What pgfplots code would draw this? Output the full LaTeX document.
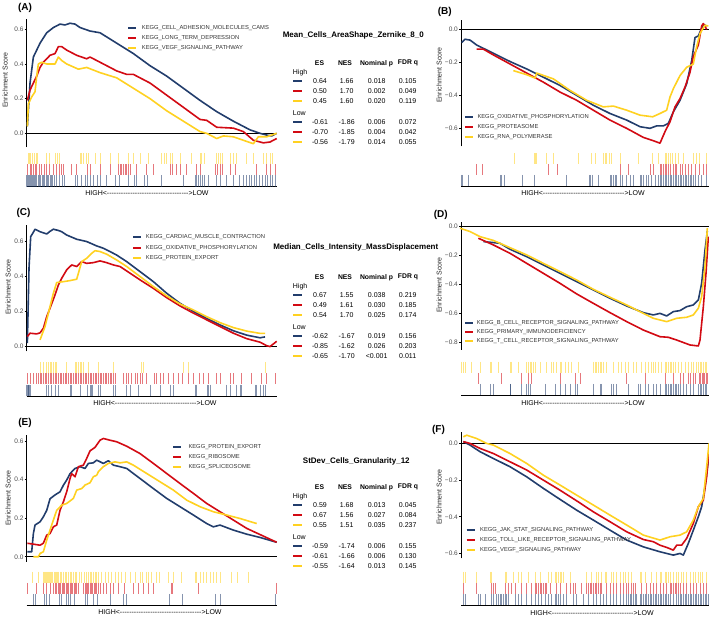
\documentclass[border=0pt]{standalone}
\usepackage{fontspec}
\setmainfont{Liberation Sans}
\usepackage{pgfplots}
\pgfplotsset{compat=1.18}
\definecolor{cb}{HTML}{223D6C}
\definecolor{cr}{HTML}{D20A13}
\definecolor{cy}{HTML}{FFD121}
\newcommand{\fs}[1]{\fontsize{#1}{#1}\selectfont}
\pgfplotsset{
  es/.style={scale only axis, axis x line=none, axis y line=left,
    axis line style={-, line width=0.8pt, black}, xtick=\empty,
    tick align=outside, major tick length=2pt,
    ytick style={line width=0.6pt, black},
    yticklabel style={font=\fs{6.5}, text=black!70, inner sep=1pt},
    clip=false},
  curve/.style={line width=1.6pt, line join=round, #1},
  rug/.style={scale only axis, axis x line=bottom, axis y line=none,
    axis line style={-, line width=0.8pt, black}, xtick=\empty,
    ymin=0, ymax=3, clip=false},
  tk/.style={only marks, mark=|, mark size=5.6pt,
    mark options={line width=0.8pt, opacity=0.55, #1}, #1},
}
% legend entry: key x, text x, y, colour, text
\newcommand{\lgd}[5]{%
  \draw[#4, line width=2pt] (#1pt,-#3pt) -- ++(8pt,0);
  \node[anchor=west, inner sep=0, font=\fs{5.8}, text=black!80] at (#2pt,-#3pt) {#5};}
% table row: y, colour, ES, NES, p, q
\newcommand{\trow}[6]{%
  \draw[#2, line width=2pt] (293.3pt,-#1pt) -- (301.7pt,-#1pt);
  \node[inner sep=0, font=\fs{7}] at (320pt,-#1pt) {#3};
  \node[inner sep=0, font=\fs{7}] at (346.7pt,-#1pt) {#4};
  \node[inner sep=0, font=\fs{7}] at (376.7pt,-#1pt) {#5};
  \node[inner sep=0, font=\fs{7}] at (407.7pt,-#1pt) {#6};}
\newcommand{\thead}[1]{%
  \node[inner sep=0, font=\bfseries\fs{6.8}] at (319.5pt,-#1pt) {ES};
  \node[inner sep=0, font=\bfseries\fs{6.8}] at (345pt,-#1pt) {NES};
  \node[inner sep=0, font=\bfseries\fs{6.8}] at (376.5pt,-#1pt) {Nominal p};
  \node[inner sep=0, font=\bfseries\fs{6.8}] at (408pt,-#1pt) {FDR q};}
\newcommand{\tlab}[2]{\node[anchor=west, inner sep=0, font=\fs{7}] at (292.7pt,-#1pt) {#2};}
\newcommand{\dd}{-{}-{}-{}-{}-{}}
\newcommand{\hl}{HIGH<\dd\dd\dd\dd\dd\dd\dd{}>LOW}
\newcommand{\esl}[2]{\node[rotate=90, inner sep=0, font=\fs{7}, text=black!85] at (#1pt,-#2pt) {Enrichment Score};}
\newcommand{\plab}[3]{\node[inner sep=0, font=\bfseries\fs{10}] at (#1pt,-#2pt) {(#3)};}

\begin{document}
\begin{tikzpicture}
\useasboundingbox (0,0) rectangle (709pt,-618pt);

%%%%%%%%%%%%%%%% (A)
\begin{axis}[es, at={(26.7pt,-18.9pt)}, anchor=north west, width=250pt, height=128.3pt,
  xmin=80, xmax=830, ymin=-0.08, ymax=0.66, ytick={0,0.2,0.4,0.6}, yticklabels={0.0,0.2,0.4,0.6}]
\addplot[black, line width=0.8pt] coordinates {(80,0)(830,0)};
\addplot[curve=cb] coordinates {(82,0.04)(90,0.29)(100,0.44)(120,0.52)(140,0.58)(160,0.61)(180,0.63)(195,0.625)(210,0.635)(225,0.63)(240,0.61)(270,0.59)(300,0.58)(350,0.52)(400,0.46)(450,0.39)(500,0.33)(550,0.26)(600,0.19)(650,0.125)(700,0.07)(750,0.02)(780,0.0)(800,-0.01)(815,-0.015)(830,0.0)};
\addplot[curve=cr] coordinates {(82,0.19)(90,0.25)(100,0.29)(110,0.33)(120,0.38)(130,0.41)(150,0.45)(165,0.46)(175,0.50)(185,0.50)(200,0.48)(230,0.45)(260,0.43)(270,0.44)(300,0.41)(350,0.36)(380,0.34)(400,0.34)(450,0.29)(500,0.22)(550,0.15)(600,0.08)(620,0.075)(650,0.035)(700,0.03)(730,0.01)(760,-0.04)(790,-0.055)(810,-0.05)(830,-0.03)};
\addplot[curve=cy] coordinates {(82,0.04)(85,0.17)(95,0.21)(105,0.24)(110,0.33)(115,0.40)(125,0.41)(140,0.40)(165,0.40)(175,0.44)(185,0.42)(200,0.40)(235,0.37)(260,0.38)(300,0.35)(350,0.32)(400,0.26)(450,0.20)(500,0.13)(550,0.07)(600,0.01)(620,0.0)(650,-0.03)(670,-0.015)(700,-0.02)(730,-0.04)(760,-0.06)(775,-0.02)(800,-0.02)(830,0.0)};
\end{axis}
\begin{axis}[rug, at={(26.7pt,-152.7pt)}, anchor=north west, width=250pt, height=34pt, xmin=80, xmax=830]
\addplot[tk=cy] coordinates {(85,2.5)(88,2.5)(92,2.5)(98,2.5)(103,2.5)(108,2.5)(113,2.5)(140,2.5)(148,2.5)(165,2.5)(172,2.5)(178,2.5)(240,2.5)(245,2.5)(250,2.5)(258,2.5)(265,2.5)(285,2.5)(300,2.5)(330,2.5)(355,2.5)(385,2.5)(400,2.5)(420,2.5)(445,2.5)(485,2.5)(492,2.5)(500,2.5)(510,2.5)(518,2.5)(540,2.5)(575,2.5)(600,2.5)(605,2.5)(612,2.5)(650,2.5)(655,2.5)(660,2.5)(668,2.5)(690,2.5)(700,2.5)(710,2.5)(740,2.5)(760,2.5)(790,2.5)(800,2.5)(810,2.5)(818,2.5)};
\addplot[tk=cr] coordinates {(83,1.5)(90,1.5)(95,1.5)(100,1.5)(105,1.5)(110,1.5)(118,1.5)(125,1.5)(133,1.5)(140,1.5)(148,1.5)(160,1.5)(168,1.5)(178,1.5)(185,1.5)(190,1.5)(215,1.5)(230,1.5)(262,1.5)(270,1.5)(300,1.5)(330,1.5)(355,1.5)(360,1.5)(365,1.5)(370,1.5)(375,1.5)(380,1.5)(385,1.5)(390,1.5)(410,1.5)(440,1.5)(460,1.5)(510,1.5)(518,1.5)(528,1.5)(540,1.5)(560,1.5)(590,1.5)(600,1.5)(645,1.5)(652,1.5)(660,1.5)(668,1.5)(690,1.5)(705,1.5)(768,1.5)(800,1.5)(810,1.5)(825,1.5)};
\addplot[tk=cb] coordinates {(80,0.5)(83,0.5)(86,0.5)(89,0.5)(92,0.5)(95,0.5)(98,0.5)(101,0.5)(104,0.5)(107,0.5)(110,0.5)(114,0.5)(118,0.5)(122,0.5)(126,0.5)(130,0.5)(134,0.5)(138,0.5)(142,0.5)(146,0.5)(150,0.5)(154,0.5)(158,0.5)(162,0.5)(170,0.5)(178,0.5)(186,0.5)(192,0.5)(225,0.5)(232,0.5)(245,0.5)(255,0.5)(262,0.5)(270,0.5)(280,0.5)(292,0.5)(300,0.5)(318,0.5)(345,0.5)(358,0.5)(385,0.5)(402,0.5)(410,0.5)(432,0.5)(442,0.5)(485,0.5)(550,0.5)(585,0.5)(590,0.5)(595,0.5)(600,0.5)(606,0.5)(612,0.5)(625,0.5)(650,0.5)(660,0.5)(680,0.5)(700,0.5)(718,0.5)(730,0.5)(738,0.5)(748,0.5)(755,0.5)(762,0.5)(770,0.5)(778,0.5)(786,0.5)(795,0.5)(802,0.5)(810,0.5)(818,0.5)(825,0.5)};
\end{axis}

%%%%%%%%%%%%%%%% (B)
\begin{axis}[es, at={(461pt,-20.1pt)}, anchor=north west, width=248pt, height=126.4pt,
  xmin=3, xmax=747, ymin=-0.71, ymax=0.056, ytick={-0.6,-0.4,-0.2,0}, yticklabels={−0.6,−0.4,−0.2,0.0}]
\addplot[black, line width=0.8pt] coordinates {(3,0)(747,0)};
\addplot[curve=cb] coordinates {(5,-0.08)(15,-0.06)(30,-0.065)(50,-0.095)(100,-0.145)(150,-0.195)(200,-0.24)(250,-0.29)(300,-0.34)(350,-0.4)(400,-0.46)(450,-0.51)(500,-0.55)(540,-0.59)(570,-0.6)(590,-0.585)(610,-0.585)(625,-0.57)(640,-0.5)(660,-0.43)(680,-0.33)(695,-0.19)(705,-0.05)(715,-0.04)(730,0.03)(740,0.02)};
\addplot[curve=cr] coordinates {(50,-0.12)(70,-0.12)(100,-0.155)(150,-0.21)(200,-0.265)(250,-0.32)(300,-0.38)(350,-0.43)(400,-0.49)(450,-0.55)(500,-0.6)(550,-0.655)(580,-0.675)(600,-0.69)(615,-0.62)(630,-0.56)(645,-0.47)(660,-0.42)(675,-0.35)(690,-0.26)(700,-0.165)(715,-0.095)(725,0.02)(730,0.035)(740,0.0)};
\addplot[curve=cy] coordinates {(160,-0.25)(200,-0.275)(225,-0.295)(230,-0.265)(280,-0.3)(330,-0.37)(380,-0.43)(430,-0.47)(460,-0.465)(500,-0.49)(540,-0.52)(578,-0.53)(600,-0.51)(620,-0.49)(630,-0.41)(640,-0.36)(660,-0.28)(680,-0.23)(700,-0.21)(710,-0.105)(720,-0.025)(735,0.025)(745,0.02)};
\end{axis}
\begin{axis}[rug, at={(461pt,-153pt)}, anchor=north west, width=248pt, height=33pt, xmin=3, xmax=747]
\addplot[tk=cy] coordinates {(163,2.5)(222,2.5)(225,2.5)(228,2.5)(258,2.5)(280,2.5)(355,2.5)(395,2.5)(405,2.5)(430,2.5)(435,2.5)(440,2.5)(448,2.5)(455,2.5)(480,2.5)(535,2.5)(578,2.5)(595,2.5)(615,2.5)(620,2.5)(625,2.5)(630,2.5)(638,2.5)(645,2.5)(655,2.5)(670,2.5)(700,2.5)(710,2.5)(718,2.5)(740,2.5)};
\addplot[tk=cr] coordinates {(50,1.5)(68,1.5)(265,1.5)(293,1.5)(480,1.5)(505,1.5)(570,1.5)(580,1.5)(600,1.5)(605,1.5)(610,1.5)(615,1.5)(620,1.5)(625,1.5)(630,1.5)(640,1.5)(645,1.5)(650,1.5)(660,1.5)(668,1.5)(675,1.5)(685,1.5)(695,1.5)(705,1.5)(718,1.5)(730,1.5)(740,1.5)};
\addplot[tk=cb] coordinates {(5,0.5)(8,0.5)(25,0.5)(120,0.5)(125,0.5)(132,0.5)(188,0.5)(222,0.5)(318,0.5)(388,0.5)(392,0.5)(398,0.5)(415,0.5)(450,0.5)(455,0.5)(460,0.5)(465,0.5)(470,0.5)(480,0.5)(488,0.5)(500,0.5)(510,0.5)(520,0.5)(540,0.5)(545,0.5)(550,0.5)(560,0.5)(565,0.5)(575,0.5)(585,0.5)(595,0.5)(600,0.5)(605,0.5)(610,0.5)(615,0.5)(620,0.5)(625,0.5)(630,0.5)(635,0.5)(640,0.5)(645,0.5)(650,0.5)(655,0.5)(660,0.5)(665,0.5)(670,0.5)(675,0.5)(680,0.5)(685,0.5)(690,0.5)(695,0.5)(700,0.5)(705,0.5)(715,0.5)(725,0.5)(740,0.5)};
\end{axis}

%%%%%%%%%%%%%%%% (C)
\begin{axis}[es, at={(26.7pt,-225pt)}, anchor=north west, width=250pt, height=126.5pt,
  xmin=80, xmax=830, ymin=-0.028, ymax=0.691, ytick={0,0.2,0.4,0.6}, yticklabels={0.0,0.2,0.4,0.6}]
\addplot[black, line width=0.8pt] coordinates {(80,0)(830,0)};
\addplot[curve=cb] coordinates {(82,0.02)(87,0.45)(92,0.625)(100,0.65)(105,0.667)(120,0.653)(140,0.64)(150,0.655)(160,0.667)(175,0.66)(185,0.653)(200,0.634)(230,0.61)(260,0.597)(290,0.572)(310,0.559)(330,0.54)(350,0.52)(380,0.483)(420,0.426)(460,0.369)(500,0.303)(540,0.246)(580,0.2)(620,0.16)(660,0.123)(700,0.09)(740,0.065)(780,0.05)(795,0.055)};
\addplot[curve=cr] coordinates {(82,0.057)(90,0.076)(110,0.072)(120,0.078)(130,0.104)(140,0.17)(150,0.218)(165,0.294)(175,0.35)(185,0.388)(200,0.436)(215,0.464)(230,0.455)(245,0.483)(260,0.473)(280,0.477)(300,0.487)(320,0.477)(340,0.464)(360,0.455)(390,0.417)(420,0.379)(460,0.331)(500,0.278)(540,0.231)(580,0.19)(620,0.152)(660,0.114)(700,0.076)(740,0.045)(780,0.025)(800,0.005)(810,0.0)(830,0.03)};
\addplot[curve=cy] coordinates {(120,0.038)(135,0.114)(150,0.227)(160,0.303)(170,0.364)(190,0.369)(210,0.375)(230,0.383)(245,0.483)(260,0.502)(275,0.53)(285,0.545)(300,0.54)(320,0.525)(350,0.492)(380,0.455)(420,0.398)(460,0.341)(500,0.288)(540,0.242)(580,0.208)(620,0.17)(660,0.136)(700,0.108)(740,0.088)(780,0.075)(795,0.075)};
\end{axis}
\begin{axis}[rug, at={(26.7pt,-361.7pt)}, anchor=north west, width=250pt, height=34.3pt, xmin=80, xmax=830]
\addplot[tk=cy] coordinates {(120,2.5)(130,2.5)(140,2.5)(145,2.5)(150,2.5)(155,2.5)(160,2.5)(165,2.5)(170,2.5)(200,2.5)(225,2.5)(230,2.5)(235,2.5)(240,2.5)(245,2.5)(250,2.5)(265,2.5)(295,2.5)(340,2.5)(425,2.5)(430,2.5)(550,2.5)(565,2.5)(795,2.5)};
\addplot[tk=cr] coordinates {(82,1.5)(92,1.5)(100,1.5)(110,1.5)(115,1.5)(120,1.5)(125,1.5)(130,1.5)(135,1.5)(140,1.5)(145,1.5)(150,1.5)(155,1.5)(160,1.5)(165,1.5)(170,1.5)(175,1.5)(180,1.5)(185,1.5)(190,1.5)(195,1.5)(200,1.5)(205,1.5)(210,1.5)(215,1.5)(220,1.5)(225,1.5)(230,1.5)(235,1.5)(240,1.5)(245,1.5)(250,1.5)(255,1.5)(260,1.5)(265,1.5)(270,1.5)(275,1.5)(280,1.5)(285,1.5)(290,1.5)(295,1.5)(300,1.5)(305,1.5)(310,1.5)(315,1.5)(320,1.5)(325,1.5)(330,1.5)(335,1.5)(340,1.5)(345,1.5)(370,1.5)(378,1.5)(385,1.5)(395,1.5)(405,1.5)(412,1.5)(420,1.5)(428,1.5)(440,1.5)(462,1.5)(470,1.5)(480,1.5)(490,1.5)(505,1.5)(520,1.5)(535,1.5)(548,1.5)(565,1.5)(580,1.5)(598,1.5)(610,1.5)(625,1.5)(650,1.5)(660,1.5)(690,1.5)(700,1.5)(725,1.5)(755,1.5)(785,1.5)(800,1.5)(825,1.5)};
\addplot[tk=cb] coordinates {(80,0.5)(82,0.5)(84,0.5)(86,0.5)(88,0.5)(90,0.5)(138,0.5)(145,0.5)(155,0.5)(165,0.5)(175,0.5)(210,0.5)(215,0.5)(240,0.5)(262,0.5)(270,0.5)(275,0.5)(278,0.5)(295,0.5)(300,0.5)(340,0.5)(345,0.5)(380,0.5)(390,0.5)(415,0.5)(450,0.5)(480,0.5)(510,0.5)(520,0.5)(585,0.5)(590,0.5)(622,0.5)(625,0.5)(630,0.5)(680,0.5)(690,0.5)(710,0.5)(720,0.5)(725,0.5)(765,0.5)(770,0.5)(780,0.5)(790,0.5)(795,0.5)};
\end{axis}

%%%%%%%%%%%%%%%% (D)
\begin{axis}[es, at={(461pt,-221.7pt)}, anchor=north west, width=248pt, height=128.2pt,
  xmin=3, xmax=747, ymin=-0.85, ymax=0.034, ytick={-0.8,-0.6,-0.4,-0.2,0}, yticklabels={−0.8,−0.6,−0.4,−0.2,0.0}]
\addplot[black, line width=0.8pt] coordinates {(3,0)(747,0)};
\addplot[curve=cb] coordinates {(70,-0.103)(100,-0.11)(120,-0.115)(150,-0.156)(200,-0.207)(250,-0.264)(300,-0.322)(350,-0.379)(400,-0.437)(450,-0.494)(500,-0.547)(550,-0.593)(580,-0.609)(600,-0.598)(620,-0.616)(640,-0.586)(660,-0.579)(680,-0.552)(700,-0.54)(715,-0.506)(725,-0.39)(735,-0.161)(742,-0.03)};
\addplot[curve=cr] coordinates {(55,-0.08)(100,-0.126)(150,-0.184)(200,-0.253)(250,-0.322)(300,-0.391)(350,-0.464)(400,-0.529)(450,-0.593)(500,-0.655)(550,-0.713)(600,-0.759)(625,-0.763)(650,-0.782)(690,-0.816)(715,-0.823)(720,-0.782)(730,-0.552)(738,-0.322)(745,-0.069)};
\addplot[curve=cy] coordinates {(0,-0.011)(30,-0.034)(60,-0.069)(100,-0.095)(150,-0.145)(200,-0.195)(250,-0.253)(300,-0.31)(350,-0.368)(400,-0.432)(450,-0.487)(500,-0.54)(550,-0.598)(580,-0.632)(620,-0.655)(650,-0.632)(680,-0.625)(700,-0.609)(715,-0.563)(725,-0.483)(735,-0.276)(742,-0.01)};
\end{axis}
\begin{axis}[rug, at={(461pt,-361.7pt)}, anchor=north west, width=248pt, height=33.3pt, xmin=3, xmax=747]
\addplot[tk=cy] coordinates {(5,2.5)(10,2.5)(15,2.5)(35,2.5)(60,2.5)(90,2.5)(95,2.5)(115,2.5)(150,2.5)(155,2.5)(175,2.5)(200,2.5)(205,2.5)(210,2.5)(215,2.5)(220,2.5)(225,2.5)(240,2.5)(260,2.5)(275,2.5)(280,2.5)(290,2.5)(300,2.5)(305,2.5)(315,2.5)(325,2.5)(335,2.5)(355,2.5)(400,2.5)(405,2.5)(410,2.5)(415,2.5)(420,2.5)(425,2.5)(430,2.5)(440,2.5)(460,2.5)(475,2.5)(485,2.5)(495,2.5)(505,2.5)(520,2.5)(530,2.5)(545,2.5)(555,2.5)(565,2.5)(575,2.5)(580,2.5)(585,2.5)(595,2.5)(605,2.5)(615,2.5)(620,2.5)(625,2.5)(630,2.5)(635,2.5)(640,2.5)(645,2.5)(655,2.5)(665,2.5)(675,2.5)(685,2.5)(695,2.5)(700,2.5)(710,2.5)(715,2.5)(720,2.5)(725,2.5)(730,2.5)(735,2.5)(740,2.5)};
\addplot[tk=cr] coordinates {(55,1.5)(125,1.5)(185,1.5)(205,1.5)(213,1.5)(300,1.5)(345,1.5)(360,1.5)(500,1.5)(555,1.5)(615,1.5)(640,1.5)(660,1.5)(670,1.5)(685,1.5)(690,1.5)(700,1.5)(705,1.5)(718,1.5)(722,1.5)(726,1.5)(730,1.5)(734,1.5)(738,1.5)(742,1.5)};
\addplot[tk=cb] coordinates {(62,0.5)(90,0.5)(100,0.5)(150,0.5)(152,0.5)(185,0.5)(200,0.5)(205,0.5)(210,0.5)(255,0.5)(285,0.5)(300,0.5)(315,0.5)(330,0.5)(345,0.5)(352,0.5)(400,0.5)(420,0.5)(425,0.5)(455,0.5)(460,0.5)(470,0.5)(505,0.5)(535,0.5)(540,0.5)(555,0.5)(565,0.5)(580,0.5)(590,0.5)(600,0.5)(615,0.5)(620,0.5)(625,0.5)(630,0.5)(635,0.5)(640,0.5)(645,0.5)(650,0.5)(655,0.5)(660,0.5)(670,0.5)(680,0.5)(690,0.5)(700,0.5)(715,0.5)(720,0.5)(725,0.5)(730,0.5)(735,0.5)(740,0.5)};
\end{axis}

%%%%%%%%%%%%%%%% (E)
\begin{axis}[es, at={(26.7pt,-435pt)}, anchor=north west, width=250pt, height=126.8pt,
  xmin=80, xmax=830, ymin=-0.026, ymax=0.63, ytick={0,0.2,0.4,0.6}, yticklabels={0.0,0.2,0.4,0.6}]
\addplot[black, line width=0.8pt] coordinates {(80,0)(830,0)};
\addplot[curve=cb] coordinates {(82,0.026)(95,0.026)(100,0.12)(105,0.164)(120,0.181)(130,0.207)(140,0.24)(150,0.3)(165,0.32)(180,0.336)(190,0.37)(200,0.397)(210,0.43)(225,0.457)(240,0.466)(255,0.457)(265,0.483)(280,0.486)(290,0.5)(310,0.483)(325,0.497)(340,0.474)(360,0.466)(380,0.457)(420,0.405)(460,0.353)(500,0.302)(540,0.259)(580,0.216)(620,0.172)(640,0.155)(660,0.164)(700,0.138)(740,0.117)(780,0.1)(830,0.075)};
\addplot[curve=cr] coordinates {(82,0.07)(120,0.06)(130,0.07)(140,0.112)(150,0.12)(160,0.155)(170,0.164)(180,0.241)(190,0.284)(200,0.336)(210,0.405)(215,0.43)(225,0.414)(235,0.466)(250,0.474)(260,0.509)(270,0.548)(285,0.566)(300,0.603)(310,0.612)(330,0.603)(350,0.595)(380,0.572)(420,0.534)(460,0.483)(500,0.431)(540,0.379)(580,0.328)(620,0.276)(660,0.233)(700,0.19)(740,0.147)(780,0.115)(830,0.075)};
\addplot[curve=cy] coordinates {(100,0.0)(115,0.0)(120,0.017)(130,0.026)(140,0.086)(155,0.164)(170,0.241)(185,0.267)(200,0.276)(220,0.302)(230,0.345)(245,0.353)(255,0.371)(270,0.383)(280,0.414)(290,0.422)(295,0.44)(310,0.466)(325,0.483)(345,0.491)(360,0.486)(380,0.491)(400,0.474)(440,0.431)(480,0.388)(520,0.345)(560,0.293)(600,0.259)(640,0.233)(680,0.216)(720,0.198)(770,0.172)};
\end{axis}
\begin{axis}[rug, at={(26.7pt,-571.7pt)}, anchor=north west, width=250pt, height=33.3pt, xmin=80, xmax=830]
\addplot[tk=cy] coordinates {(98,2.5)(115,2.5)(130,2.5)(133,2.5)(136,2.5)(139,2.5)(142,2.5)(145,2.5)(148,2.5)(151,2.5)(155,2.5)(158,2.5)(162,2.5)(165,2.5)(168,2.5)(172,2.5)(176,2.5)(180,2.5)(185,2.5)(190,2.5)(195,2.5)(200,2.5)(205,2.5)(210,2.5)(215,2.5)(220,2.5)(225,2.5)(230,2.5)(238,2.5)(245,2.5)(252,2.5)(258,2.5)(265,2.5)(270,2.5)(275,2.5)(280,2.5)(285,2.5)(290,2.5)(295,2.5)(305,2.5)(315,2.5)(325,2.5)(335,2.5)(345,2.5)(355,2.5)(365,2.5)(375,2.5)(390,2.5)(405,2.5)(420,2.5)(428,2.5)(440,2.5)(445,2.5)(455,2.5)(470,2.5)(478,2.5)(505,2.5)(520,2.5)(545,2.5)(585,2.5)(590,2.5)(600,2.5)(610,2.5)(620,2.5)(630,2.5)(640,2.5)(650,2.5)(660,2.5)(695,2.5)(712,2.5)(745,2.5)};
\addplot[tk=cr] coordinates {(82,1.5)(108,1.5)(130,1.5)(140,1.5)(150,1.5)(160,1.5)(165,1.5)(170,1.5)(175,1.5)(178,1.5)(182,1.5)(186,1.5)(190,1.5)(194,1.5)(198,1.5)(202,1.5)(206,1.5)(210,1.5)(214,1.5)(218,1.5)(222,1.5)(226,1.5)(230,1.5)(235,1.5)(250,1.5)(255,1.5)(258,1.5)(262,1.5)(266,1.5)(270,1.5)(274,1.5)(278,1.5)(282,1.5)(286,1.5)(290,1.5)(295,1.5)(300,1.5)(310,1.5)(320,1.5)(330,1.5)(340,1.5)(355,1.5)(372,1.5)(400,1.5)(415,1.5)(430,1.5)(445,1.5)(460,1.5)(515,1.5)(518,1.5)(595,1.5)(828,1.5)};
\addplot[tk=cb] coordinates {(100,0.5)(105,0.5)(133,0.5)(140,0.5)(148,0.5)(178,0.5)(185,0.5)(200,0.5)(205,0.5)(212,0.5)(222,0.5)(255,0.5)(262,0.5)(280,0.5)(292,0.5)(332,0.5)(370,0.5)(380,0.5)(508,0.5)(548,0.5)(645,0.5)(662,0.5)(825,0.5)};
\end{axis}

%%%%%%%%%%%%%%%% (F)
\begin{axis}[es, at={(461pt,-431.7pt)}, anchor=north west, width=248pt, height=126.7pt,
  xmin=3, xmax=747, ymin=-0.627, ymax=0.064, ytick={-0.6,-0.4,-0.2,0}, yticklabels={−0.6,−0.4,−0.2,0.0}]
\addplot[black, line width=0.8pt] coordinates {(3,0)(747,0)};
\addplot[curve=cb] coordinates {(10,0.01)(30,-0.009)(60,-0.045)(100,-0.082)(150,-0.127)(200,-0.182)(250,-0.245)(300,-0.305)(350,-0.364)(400,-0.418)(450,-0.473)(500,-0.527)(550,-0.564)(600,-0.591)(640,-0.609)(660,-0.6)(670,-0.609)(685,-0.545)(700,-0.473)(715,-0.4)(725,-0.345)(735,-0.236)(745,-0.091)(748,0.0)};
\addplot[curve=cr] coordinates {(10,0.01)(30,0.0)(60,-0.027)(100,-0.055)(150,-0.1)(200,-0.145)(250,-0.2)(300,-0.255)(350,-0.313)(400,-0.373)(450,-0.427)(500,-0.482)(550,-0.524)(580,-0.536)(600,-0.555)(620,-0.567)(640,-0.582)(650,-0.555)(665,-0.555)(680,-0.518)(700,-0.436)(715,-0.345)(730,-0.309)(740,-0.182)(748,-0.018)};
\addplot[curve=cy] coordinates {(10,0.036)(20,0.045)(50,0.027)(80,0.0)(100,-0.009)(150,-0.055)(200,-0.109)(250,-0.173)(300,-0.227)(350,-0.282)(400,-0.336)(450,-0.391)(500,-0.445)(550,-0.5)(600,-0.527)(630,-0.509)(660,-0.5)(680,-0.482)(700,-0.418)(715,-0.345)(730,-0.3)(740,-0.127)(747,0.0)};
\end{axis}
\begin{axis}[rug, at={(461pt,-571.7pt)}, anchor=north west, width=248pt, height=33.3pt, xmin=3, xmax=747]
\addplot[tk=cy] coordinates {(10,2.5)(15,2.5)(50,2.5)(90,2.5)(95,2.5)(135,2.5)(140,2.5)(160,2.5)(175,2.5)(185,2.5)(205,2.5)(225,2.5)(240,2.5)(265,2.5)(275,2.5)(285,2.5)(290,2.5)(295,2.5)(300,2.5)(305,2.5)(310,2.5)(330,2.5)(380,2.5)(395,2.5)(410,2.5)(415,2.5)(425,2.5)(435,2.5)(440,2.5)(455,2.5)(460,2.5)(470,2.5)(480,2.5)(490,2.5)(495,2.5)(505,2.5)(515,2.5)(540,2.5)(545,2.5)(555,2.5)(575,2.5)(590,2.5)(600,2.5)(605,2.5)(615,2.5)(620,2.5)(625,2.5)(630,2.5)(640,2.5)(648,2.5)(655,2.5)(665,2.5)(670,2.5)(680,2.5)(690,2.5)(700,2.5)(705,2.5)(715,2.5)(720,2.5)(728,2.5)(740,2.5)};
\addplot[tk=cr] coordinates {(10,1.5)(50,1.5)(95,1.5)(100,1.5)(105,1.5)(135,1.5)(145,1.5)(155,1.5)(165,1.5)(185,1.5)(200,1.5)(215,1.5)(225,1.5)(230,1.5)(235,1.5)(240,1.5)(245,1.5)(250,1.5)(255,1.5)(260,1.5)(270,1.5)(290,1.5)(300,1.5)(320,1.5)(330,1.5)(340,1.5)(345,1.5)(365,1.5)(380,1.5)(385,1.5)(390,1.5)(395,1.5)(400,1.5)(405,1.5)(410,1.5)(415,1.5)(420,1.5)(425,1.5)(440,1.5)(450,1.5)(460,1.5)(470,1.5)(480,1.5)(490,1.5)(500,1.5)(505,1.5)(515,1.5)(520,1.5)(525,1.5)(545,1.5)(560,1.5)(570,1.5)(580,1.5)(590,1.5)(600,1.5)(610,1.5)(620,1.5)(630,1.5)(635,1.5)(640,1.5)(645,1.5)(650,1.5)(655,1.5)(660,1.5)(670,1.5)(680,1.5)(690,1.5)(700,1.5)(710,1.5)(720,1.5)(730,1.5)(740,1.5)};
\addplot[tk=cb] coordinates {(10,0.5)(15,0.5)(55,0.5)(60,0.5)(75,0.5)(95,0.5)(100,0.5)(110,0.5)(115,0.5)(120,0.5)(125,0.5)(130,0.5)(135,0.5)(140,0.5)(145,0.5)(165,0.5)(175,0.5)(185,0.5)(200,0.5)(215,0.5)(225,0.5)(235,0.5)(245,0.5)(255,0.5)(265,0.5)(275,0.5)(285,0.5)(290,0.5)(295,0.5)(300,0.5)(310,0.5)(320,0.5)(340,0.5)(350,0.5)(370,0.5)(385,0.5)(400,0.5)(410,0.5)(420,0.5)(430,0.5)(440,0.5)(450,0.5)(460,0.5)(470,0.5)(480,0.5)(490,0.5)(500,0.5)(505,0.5)(510,0.5)(515,0.5)(520,0.5)(525,0.5)(530,0.5)(540,0.5)(545,0.5)(550,0.5)(555,0.5)(560,0.5)(565,0.5)(570,0.5)(575,0.5)(580,0.5)(585,0.5)(590,0.5)(595,0.5)(600,0.5)(605,0.5)(610,0.5)(615,0.5)(620,0.5)(625,0.5)(630,0.5)(640,0.5)(650,0.5)(655,0.5)(660,0.5)(665,0.5)(670,0.5)(675,0.5)(680,0.5)(685,0.5)(690,0.5)(695,0.5)(700,0.5)(705,0.5)(710,0.5)(715,0.5)(720,0.5)(725,0.5)(730,0.5)(735,0.5)(740,0.5)(745,0.5)};
\end{axis}

%%%%%%%%%%%%%%%% text
\plab{25}{8}{A} \plab{444.7}{11.7}{B} \plab{23.5}{213.3}{C}
\plab{440.8}{215}{D} \plab{25}{423.3}{E} \plab{438.5}{430}{F}
\esl{5}{80} \esl{8}{287} \esl{8}{498} \esl{439}{75} \esl{439}{285} \esl{439}{497}
\node[font=\fs{7}, inner sep=0] at (147pt,-193.3pt) {\hl};
\node[font=\fs{7}, inner sep=0] at (583pt,-193pt) {\hl};
\node[font=\fs{7}, inner sep=0] at (155pt,-402.7pt) {\hl};
\node[font=\fs{7}, inner sep=0] at (583pt,-402.7pt) {\hl};
\node[font=\fs{7}, inner sep=0] at (160pt,-612pt) {\hl};
\node[font=\fs{7}, inner sep=0] at (592pt,-612.7pt) {\hl};

\lgd{128.3}{141.7}{28.5}{cb}{KEGG\_CELL\_ADHESION\_MOLECULES\_CAMS}
\lgd{128.3}{141.7}{38}{cr}{KEGG\_LONG\_TERM\_DEPRESSION}
\lgd{128.3}{141.7}{48}{cy}{KEGG\_VEGF\_SIGNALING\_PATHWAY}
\lgd{465}{477.3}{117.3}{cb}{KEGG\_OXIDATIVE\_PHOSPHORYLATION}
\lgd{465}{477.3}{127.3}{cr}{KEGG\_PROTEASOME}
\lgd{465}{477.3}{136.7}{cy}{KEGG\_RNA\_POLYMERASE}
\lgd{133.3}{145.7}{237.3}{cb}{KEGG\_CARDIAC\_MUSCLE\_CONTRACTION}
\lgd{133.3}{145.7}{247.7}{cr}{KEGG\_OXIDATIVE\_PHOSPHORYLATION}
\lgd{133.3}{145.7}{257.7}{cy}{KEGG\_PROTEIN\_EXPORT}
\lgd{465}{476.7}{322.7}{cb}{KEGG\_B\_CELL\_RECEPTOR\_SIGNALING\_PATHWAY}
\lgd{465}{476.7}{331.7}{cr}{KEGG\_PRIMARY\_IMMUNODEFICIENCY}
\lgd{465}{476.7}{340.7}{cy}{KEGG\_T\_CELL\_RECEPTOR\_SIGNALING\_PATHWAY}
\lgd{173.3}{188.3}{447.3}{cb}{KEGG\_PROTEIN\_EXPORT}
\lgd{173.3}{188.3}{457.3}{cr}{KEGG\_RIBOSOME}
\lgd{173.3}{188.3}{467.3}{cy}{KEGG\_SPLICEOSOME}
\lgd{466.7}{480}{530}{cb}{KEGG\_JAK\_STAT\_SIGNALING\_PATHWAY}
\lgd{466.7}{480}{540}{cr}{KEGG\_TOLL\_LIKE\_RECEPTOR\_SIGNALING\_PATHWAY}
\lgd{466.7}{480}{550}{cy}{KEGG\_VEGF\_SIGNALING\_PATHWAY}

% table 1
\node[font=\bfseries\fs{8}, inner sep=0] at (353.3pt,-35pt) {Mean\_Cells\_AreaShape\_Zernike\_8\_0};
\thead{63.3} \tlab{72.7}{High}
\trow{81}{cb}{0.64}{1.66}{0.018}{0.105}
\trow{91}{cr}{0.50}{1.70}{0.002}{0.049}
\trow{101}{cy}{0.45}{1.60}{0.020}{0.119}
\tlab{113.3}{Low}
\trow{121.7}{cb}{-0.61}{-1.86}{0.006}{0.072}
\trow{131.7}{cr}{-0.70}{-1.85}{0.004}{0.042}
\trow{141.7}{cy}{-0.56}{-1.79}{0.014}{0.055}
% table 2
\node[font=\bfseries\fs{8}, inner sep=0] at (355.8pt,-247.7pt) {Median\_Cells\_Intensity\_MassDisplacement};
\thead{277.3} \tlab{286.7}{High}
\trow{295}{cb}{0.67}{1.55}{0.038}{0.219}
\trow{305}{cr}{0.49}{1.61}{0.030}{0.185}
\trow{315}{cy}{0.54}{1.70}{0.025}{0.174}
\tlab{327.3}{Low}
\trow{335.7}{cb}{-0.62}{-1.67}{0.019}{0.156}
\trow{345.7}{cr}{-0.85}{-1.62}{0.026}{0.203}
\trow{355.7}{cy}{-0.65}{-1.70}{<0.001}{0.011}
% table 3
\node[font=\bfseries\fs{8}, inner sep=0] at (356.3pt,-461pt) {StDev\_Cells\_Granularity\_12};
\thead{487.3} \tlab{496.7}{High}
\trow{505}{cb}{0.59}{1.68}{0.013}{0.045}
\trow{515}{cr}{0.67}{1.56}{0.027}{0.084}
\trow{525}{cy}{0.55}{1.51}{0.035}{0.237}
\tlab{537.3}{Low}
\trow{545.7}{cb}{-0.59}{-1.74}{0.006}{0.155}
\trow{555.7}{cr}{-0.61}{-1.66}{0.006}{0.130}
\trow{565.7}{cy}{-0.55}{-1.64}{0.013}{0.145}
\end{tikzpicture}
\end{document}
